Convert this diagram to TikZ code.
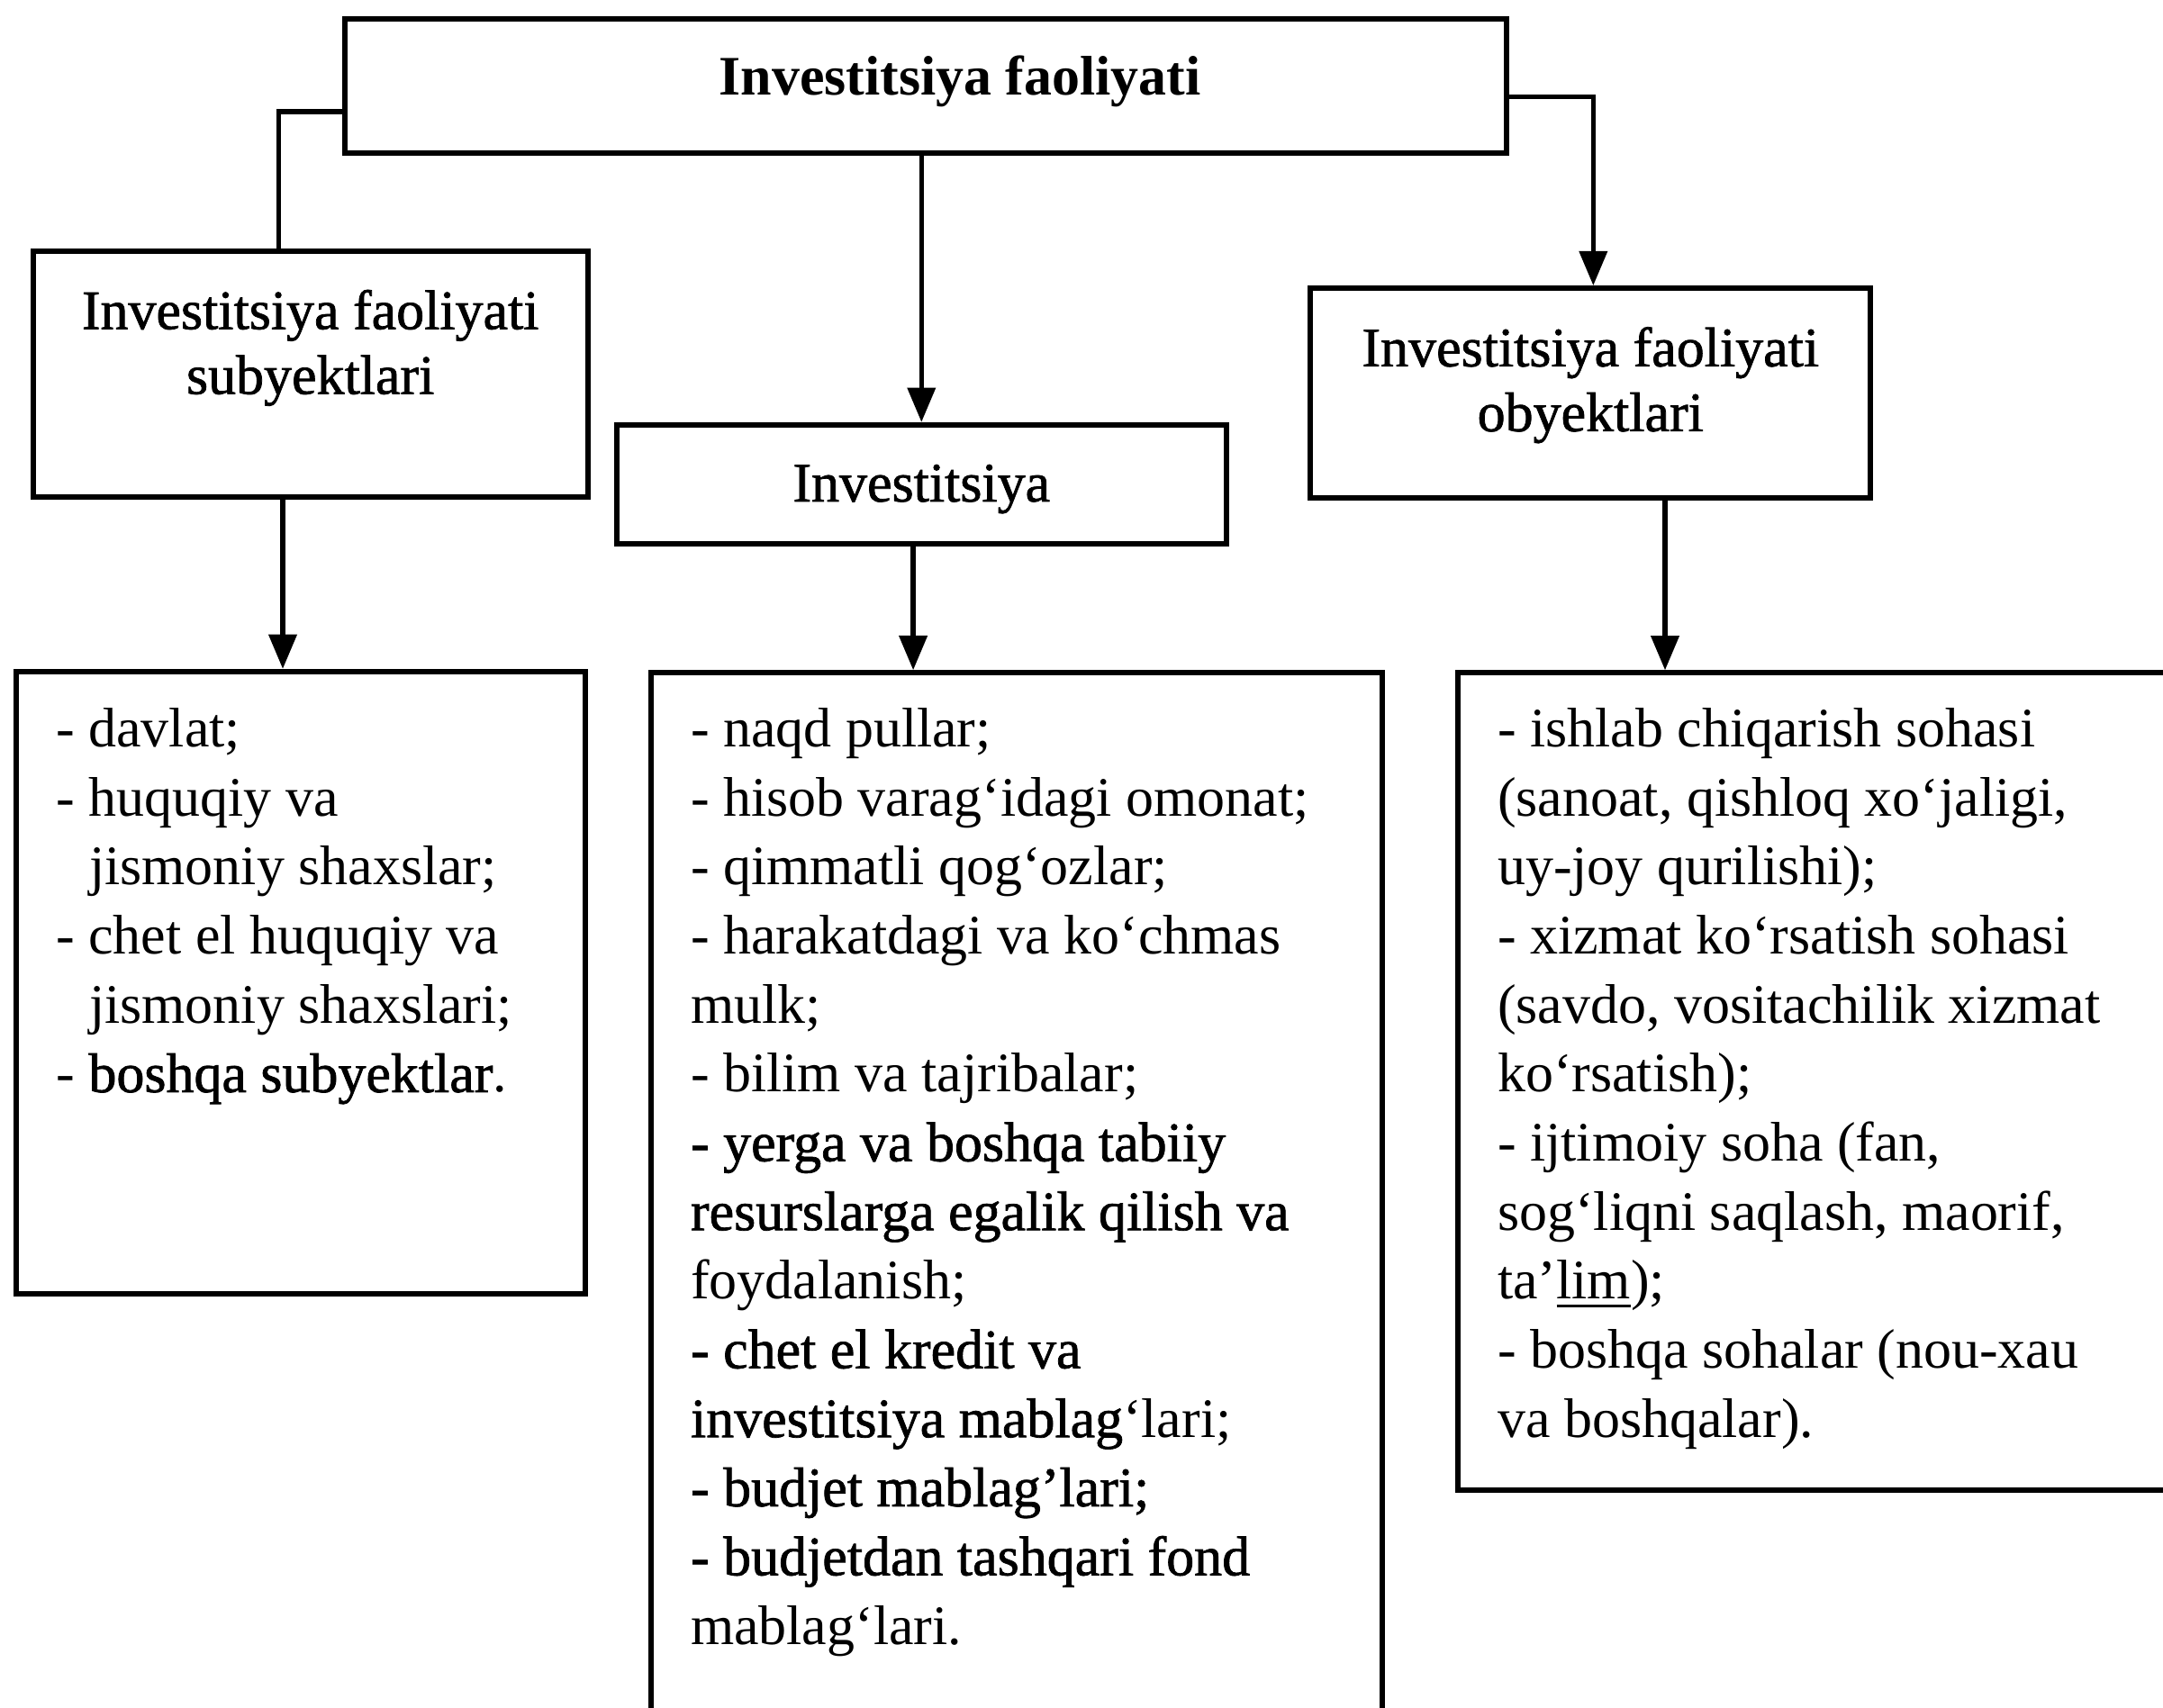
\documentclass[tikz,border=0pt]{standalone}
\usepackage{fontspec}
\setmainfont{Liberation Serif}
\newfontfamily\heavy{Liberation Serif}[FakeBold=1.2]
\usetikzlibrary{arrows.meta}
\newcommand{\fstrut}{\rule{0pt}{10pt}}
\begin{document}
\begin{tikzpicture}[x=0.01cm,y=-0.01cm,
  box/.style={draw, line width=1.1pt, inner sep=0pt},
  conn/.style={line width=1pt},
  arr/.style={conn, -{Triangle[length=2.5mm,width=2mm]}},
  txt/.style={inner sep=0pt, anchor=north west, align=left, font=\fontsize{11.5pt}{14.23pt}\selectfont},
  ttl/.style={inner sep=0pt, anchor=north, align=center, font=\fontsize{11.5pt}{13.37pt}\selectfont}]
\useasboundingbox (0,0) rectangle (1568,1238);
\clip (0,0) rectangle (1568,1238);

% boxes
\node[box, minimum width=8.42cm, minimum height=0.97cm] (top) at (671,62.5) {};
\node[box, minimum width=4.02cm, minimum height=1.78cm] (sub) at (225,271) {};
\node[box, minimum width=4.42cm, minimum height=0.86cm] (inv) at (668,351) {};
\node[box, minimum width=4.06cm, minimum height=1.52cm] (obj) at (1153,285) {};
\node[box, minimum width=4.12cm, minimum height=4.51cm] (la) at (218,712.5) {};
\node[box, minimum width=5.30cm, minimum height=8.00cm] (lb) at (737,888) {};
\node[box, minimum width=5.80cm, minimum height=5.92cm] (lc) at (1347,784) {};

% titles
\node[ttl, font=\fontsize{11.5pt}{13.37pt}\selectfont\bfseries] (ttop) at (696,32.7) {\fstrut Investitsiya faoliyati};
\node[ttl] (tsub) at (225,202.7) {\heavy\fstrut Investitsiya faoliyati\\\heavy subyektlari};
\node[ttl] (tinv) at (668,327.7) {\heavy\fstrut Investitsiya};
\node[ttl] (tobj) at (1153,229.7) {\heavy\fstrut Investitsiya faoliyati\\\heavy obyektlari};

% list texts
\node[txt] (xa) at (40,505.7) {\fstrut- davlat;\\
- huquqiy va\\
\hspace*{0.24cm}jismoniy shaxslar;\\
- chet el huquqiy va\\
\hspace*{0.24cm}jismoniy shaxslari;\\
- {\heavy boshqa subyektlar}.};

\node[txt] (xb) at (500,505.7) {\fstrut- naqd pullar;\\
- hisob varag‘idagi omonat;\\
- qimmatli qog‘ozlar;\\
- harakatdagi va ko‘chmas\\
mulk;\\
- bilim va tajribalar;\\
{\heavy - yerga va boshqa tabiiy}\\
{\heavy resurslarga egalik qilish va}\\
foydalanish;\\
{\heavy - chet el kredit va}\\
{\heavy investitsiya mablag}‘lari;\\
{\heavy - budjet mablag’lari;}\\
{\heavy - budjetdan tashqari fond}\\
mablag‘lari.};

\node[txt] (xc) at (1085,505.7) {\fstrut- ishlab chiqarish sohasi\\
(sanoat, qishloq xo‘jaligi,\\
uy-joy qurilishi);\\
- xizmat ko‘rsatish sohasi\\
(savdo, vositachilik xizmat\\
ko‘rsatish);\\
- ijtimoiy soha (fan,\\
sog‘liqni saqlash, maorif,\\
ta’\underline{lim});\\
- boshqa sohalar (nou-xau\\
va boshqalar).};

% connectors
\draw[conn] ([yshift=-0.185cm]top.west) -| ([xshift=-0.23cm]sub.north);
\draw[arr] ([yshift=-0.075cm]top.east) -| ([xshift=0.02cm]obj.north);
\draw[arr] (top.south -| inv.north) -- (inv.north);
\draw[arr] ([xshift=-0.2cm]sub.south) -- ([xshift=-0.2cm]sub.south |- la.north);
\draw[arr] ([xshift=-0.06cm]inv.south) -- ([xshift=-0.06cm]inv.south |- lb.north);
\draw[arr] ([xshift=0.54cm]obj.south) -- ([xshift=0.54cm]obj.south |- lc.north);
\end{tikzpicture}
\end{document}
